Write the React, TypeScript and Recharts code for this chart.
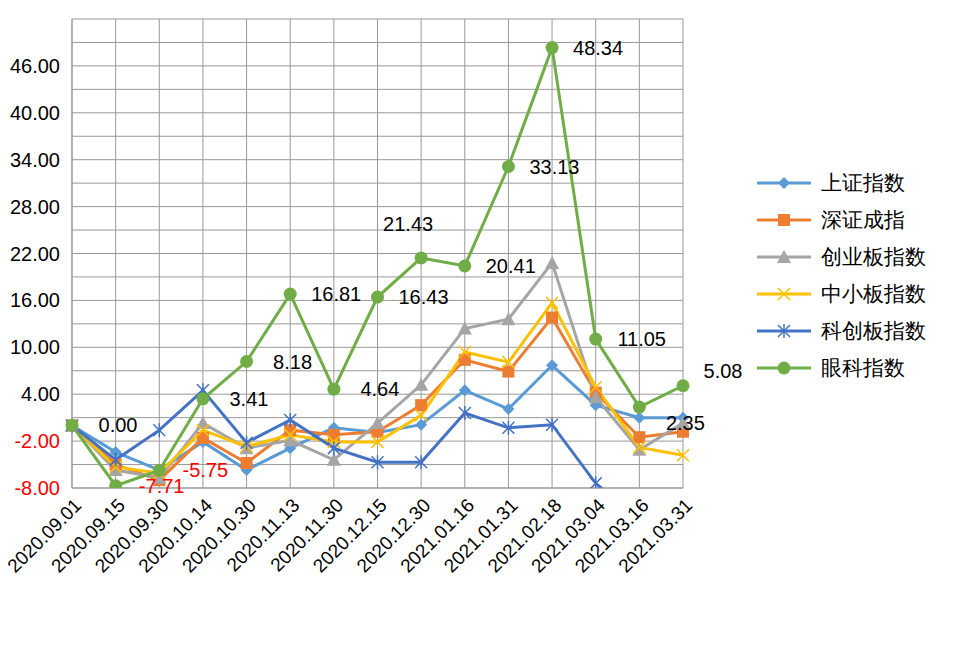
import React from "react";
import { LineChart, Line, XAxis, YAxis, CartesianGrid, LabelList } from "recharts";

const dates = ["2020.09.01", "2020.09.15", "2020.09.30", "2020.10.14", "2020.10.30", "2020.11.13", "2020.11.30", "2020.12.15", "2020.12.30", "2021.01.16", "2021.01.31", "2021.02.18", "2021.03.04", "2021.03.16", "2021.03.31"];
const shIndex = [0, -3.4, -5.7, -2.1, -5.7, -2.9, -0.3, -0.9, 0.1, 4.5, 2.1, 7.7, 2.6, 1.0, 1.0];
const szIndex = [0, -5.0, -7.0, -1.6, -4.8, -0.6, -1.2, -0.8, 2.6, 8.4, 6.9, 13.8, 4.2, -1.5, -0.8];
const cyIndex = [0, -5.7, -6.7, 0.3, -2.9, -1.9, -4.4, 0.3, 5.2, 12.4, 13.6, 20.8, 3.6, -3.1, 0.3];
const zxIndex = [0, -5.3, -6.1, -0.6, -2.7, -1.2, -2.1, -2.1, 1.3, 9.4, 8.1, 15.7, 4.9, -2.8, -3.8];
const kcIndex = [0, -4.4, -0.6, 4.5, -2.2, 0.7, -2.9, -4.7, -4.7, 1.6, -0.3, 0.1, -7.4, -12, -12];
const ykIndex = [0, -7.71, -5.75, 3.41, 8.18, 16.81, 4.64, 16.43, 21.43, 20.41, 33.13, 48.34, 11.05, 2.35, 5.08];
const yTicks = [-8, -5, -2, 1, 4, 7, 10, 13, 16, 19, 22, 25, 28, 31, 34, 37, 40, 43, 46, 49, 52];

const data = dates.map((d, i) => ({
  date: d, sh: shIndex[i], sz: szIndex[i], cy: cyIndex[i], zx: zxIndex[i], kc: kcIndex[i], yk: ykIndex[i],
}));

const FONT = "'Liberation Sans', Arial, sans-serif";

const series = [
  { key: "sh", name: "上证指数", color: "#5B9BD5", shape: "diamond" },
  { key: "sz", name: "深证成指", color: "#ED7D31", shape: "square" },
  { key: "cy", name: "创业板指数", color: "#A5A5A5", shape: "triangle" },
  { key: "zx", name: "中小板指数", color: "#FFC000", shape: "x" },
  { key: "kc", name: "科创板指数", color: "#4472C4", shape: "star" },
  { key: "yk", name: "眼科指数", color: "#70AD47", shape: "circle" },
];

function Marker({ cx, cy, shape, color }: any) {
  if (cx == null || cy == null || isNaN(cy)) return null;
  switch (shape) {
    case "diamond":
      return <polygon points={`${cx},${cy - 6} ${cx + 6},${cy} ${cx},${cy + 6} ${cx - 6},${cy}`} fill={color} />;
    case "square":
      return <rect x={cx - 6} y={cy - 6} width={12} height={12} fill={color} />;
    case "triangle":
      return <polygon points={`${cx},${cy - 7} ${cx + 7},${cy + 6} ${cx - 7},${cy + 6}`} fill={color} />;
    case "x":
      return <path d={`M${cx - 6},${cy - 6}L${cx + 6},${cy + 6}M${cx + 6},${cy - 6}L${cx - 6},${cy + 6}`} stroke={color} strokeWidth={1.5} />;
    case "star":
      return <path d={`M${cx - 6},${cy - 6}L${cx + 6},${cy + 6}M${cx + 6},${cy - 6}L${cx - 6},${cy + 6}M${cx},${cy - 7}L${cx},${cy + 7}`} stroke={color} strokeWidth={1.5} />;
    default:
      return <circle cx={cx} cy={cy} r={6.5} fill={color} />;
  }
}

function GreenLabel(props: any) {
  const { x, y, value, index } = props;
  let dx = 46, dy = 0;
  if (index === 8) { dx = -13; dy = -34; }
  if (index === 13) { dy = 16; }
  if (index === 14) { dx = 40; dy = -15; }
  return (
    <text x={x + dx} y={y + dy} textAnchor="middle" dominantBaseline="central" fontSize={20} fontFamily={FONT} fill={value < 0 ? "#FF0000" : "#000"}>
      {value.toFixed(2)}
    </text>
  );
}

function YTick({ x, y, payload }: any) {
  const v = payload.value;
  if ((v + 8) % 6 !== 0 || v > 46) return null;
  return (
    <text x={x - 4} y={y} textAnchor="end" dominantBaseline="central" fontSize={20} fontFamily={FONT} fill={v < 0 ? "#FF0000" : "#000"}>
      {v.toFixed(2)}
    </text>
  );
}

function XTick({ x, y, payload }: any) {
  return (
    <text x={x + 6} y={y + 6} transform={`rotate(-45 ${x + 6} ${y + 6})`} textAnchor="end" dominantBaseline="central" fontSize={19} fontFamily={FONT} fill="#000">
      {payload.value}
    </text>
  );
}

function LegendBox() {
  return (
    <div style={{ position: "absolute", left: 755, top: 164, fontFamily: FONT, fontSize: 21 }}>
      {series.map(s => (
        <div key={s.key} style={{ display: "flex", alignItems: "center", height: 37 }}>
          <svg width={60} height={20}>
            <line x1={2} y1={10} x2={56} y2={10} stroke={s.color} strokeWidth={3} />
            <Marker cx={29} cy={10} shape={s.shape} color={s.color} />
          </svg>
          <span style={{ marginLeft: 6 }}>{s.name}</span>
        </div>
      ))}
    </div>
  );
}

export default function App() {
  return (
    <div style={{ position: "absolute", left: 0, top: 0, width: 974, height: 647, background: "#fff" }}>
      <LineChart width={974} height={647} data={data} margin={{ top: 19, right: 291, left: 0, bottom: 0 }}>
        <CartesianGrid stroke="#999" strokeWidth={1} />
        <XAxis dataKey="date" padding={{ left: 0, right: 0 }} height={159} tick={<XTick />} tickLine={false} axisLine={{ stroke: "#999" }} interval={0} />
        <YAxis width={72} domain={[-8, 52]} ticks={yTicks} allowDataOverflow tick={<YTick />} tickLine={false} axisLine={{ stroke: "#999" }} />
        {series.map(s => (
          <Line key={s.key} dataKey={s.key} name={s.name} stroke={s.color} strokeWidth={3} isAnimationActive={false}
            dot={(p: any) => <Marker key={p.index} cx={p.cx} cy={p.cy} shape={s.shape} color={s.color} />}
            activeDot={false}>
            {s.key === "yk" && <LabelList dataKey="yk" content={<GreenLabel />} />}
          </Line>
        ))}
      </LineChart>
      <LegendBox />
    </div>
  );
}
